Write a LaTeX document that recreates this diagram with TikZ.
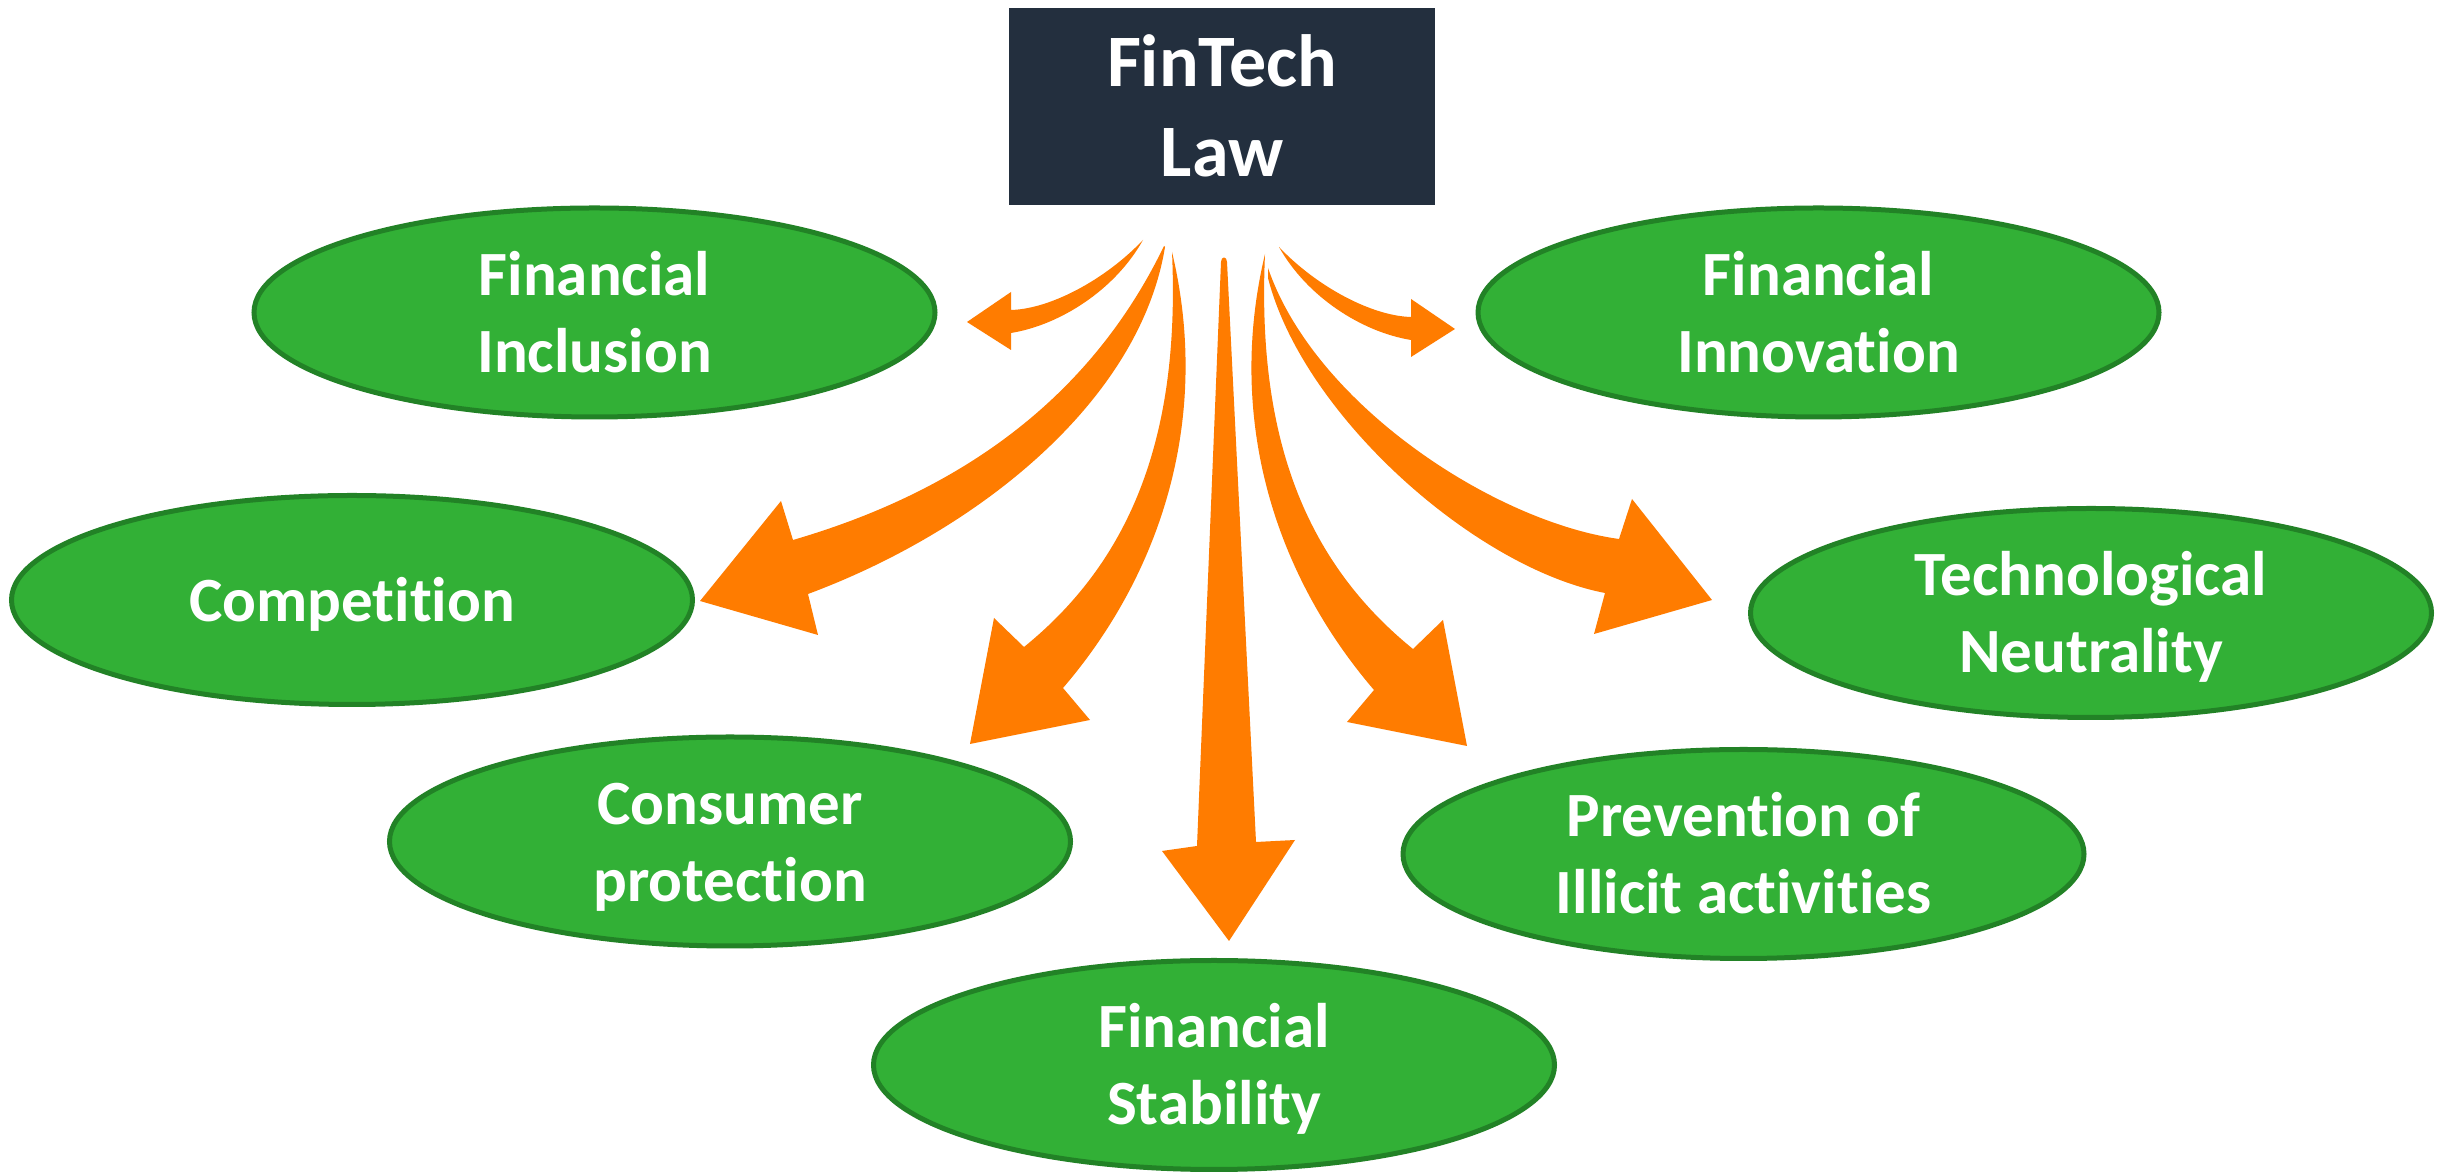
\documentclass[tikz,border=0pt]{standalone}
\usepackage{fontspec}
\setmainfont{Carlito}[Ligatures=NoCommon]
\usetikzlibrary{shapes.geometric}
\definecolor{arroworange}{RGB}{255,124,0}
\definecolor{boxnavy}{RGB}{35,47,62}
\definecolor{ellgreen}{RGB}{50,176,54}
\definecolor{ellstroke}{RGB}{34,130,38}
\newcommand\mytxt[2]{\begin{tabular}{@{}c@{}}\rule{0pt}{#1}#2\end{tabular}}
\begin{document}
\begin{tikzpicture}[x=0.25pt,y=-0.25pt,
  topic/.style={ellipse, draw=ellstroke, line width=1.25pt, fill=ellgreen,
    minimum width=170.25pt, minimum height=52.25pt, inner xsep=0pt, inner ysep=-4pt,
    text=white, font=\bfseries\fontsize{15.75}{19.25}\selectfont},
  lawbox/.style={rectangle, fill=boxnavy, minimum width=106.5pt,
    minimum height=49.25pt, inner sep=0pt, text=white,
    font=\bfseries\fontsize{18.5}{22.5}\selectfont},
  blockarrow/.style={fill=arroworange}]
\fill[white] (0,0) rectangle (2453,1173);
\useasboundingbox (0,0) rectangle (2453,1173);

% central box
\node[lawbox] (law) at (1222,106.5) {\mytxt{19.35pt}{FinTech\\Law}};

% topics
\node[topic] (fi) at (594.5,312.5) {\mytxt{16.475pt}{Financial\\Inclusion}};
\node[topic] (fn) at (1818.5,312.5) {\mytxt{16.475pt}{Financial\\Innovation}};
\node[topic] (co) at (352,600) {\mytxt{16.475pt}{Competition}};
\node[topic] (tn) at (2091,613) {\mytxt{16.475pt}{Technological\\Neutrality}};
\node[topic] (cp) at (730,841.5) {\mytxt{16.475pt}{Consumer\\protection}};
\node[topic] (pi) at (1743.5,854) {\mytxt{16.475pt}{Prevention of\\Illicit activities}};
\node[topic] (fs) at (1214,1065) {\mytxt{16.475pt}{Financial\\Stability}};

% curved block arrows from the law box to the topics
% to Financial Inclusion
\fill[blockarrow] (1143,240) .. controls (1105,280) and (1050,309) .. (1011,310)
  -- (1011,292) -- (967,322) -- (1011,350) -- (1011,333)
  .. controls (1060,325) and (1115,290) .. (1143,240) -- cycle;
% to Financial Innovation
\fill[blockarrow] (1279,247) .. controls (1317,287) and (1372,316) .. (1411,317)
  -- (1411,299) -- (1455,329) -- (1411,357) -- (1411,340)
  .. controls (1362,332) and (1307,297) .. (1279,247) -- cycle;
% to Competition
\fill[blockarrow] (1164,246) .. controls (1080,420) and (930,500) .. (793,540)
  -- (781,501) -- (700,601) -- (818,635) -- (808,594)
  .. controls (980,530) and (1140,400) .. (1165,247) -- cycle;
% to Technological Neutrality
\fill[blockarrow] (1268,268) .. controls (1315,405) and (1495,522) .. (1619,539)
  -- (1632,499) -- (1712,600) -- (1594,634) -- (1605,593)
  .. controls (1475,568) and (1303,415) .. (1268,278) -- cycle;
% to Consumer protection
\fill[blockarrow] (1172,252) .. controls (1180,430) and (1135,557) .. (1024,647)
  -- (994,618) -- (970,744) -- (1090,720) -- (1063,688)
  .. controls (1160,575) and (1212,420) .. (1172,252) -- cycle;
% to Prevention of Illicit activities
\fill[blockarrow] (1265,254) .. controls (1257,432) and (1302,559) .. (1413,649)
  -- (1443,620) -- (1467,746) -- (1347,722) -- (1374,690)
  .. controls (1277,577) and (1225,422) .. (1265,254) -- cycle;
% to Financial Stability
\fill[blockarrow] (1227,262) -- (1256,842) -- (1295,840) -- (1229,941)
  -- (1162,851) -- (1197,846) -- (1221,262)
  .. controls (1221,256) and (1227,256) .. (1227,262) -- cycle;
\end{tikzpicture}
\end{document}
